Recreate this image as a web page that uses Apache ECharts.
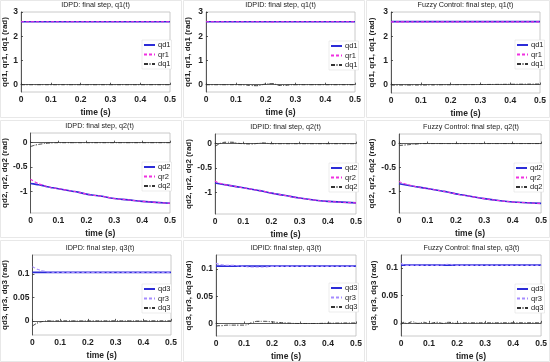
<!DOCTYPE html>
<html><head><meta charset="utf-8">
<script src="https://cdn.jsdelivr.net/npm/echarts@6/dist/echarts.min.js"></script>
<style>html,body{margin:0;padding:0;background:#fff}#c{width:550px;height:362px}</style>
</head><body><div id="c"></div>
<script>
// time samples (s)
const T = [0, 0.01, 0.02, 0.04, 0.06, 0.08, 0.1, 0.13, 0.15, 0.17, 0.2, 0.22, 0.25, 0.3, 0.35, 0.4, 0.5];

// Panel titles
const titles = [
  'IDPD: final step, q1(t)', 'IDPID: final step, q1(t)', 'Fuzzy Control: final step, q1(t)',
  'IDPD: final step, q2(t)', 'IDPID: final step, q2(t)', 'Fuzzy Control: final step, q2(t)',
  'IDPD: final step, q3(t)', 'IDPID: final step, q3(t)', 'Fuzzy Control: final step, q3(t)'
];
const yNames = ['qd1, qr1, dq1 (rad)', 'qd2, qr2, dq2 (rad)', 'qd3, qr3, dq3 (rad)'];
const legendNames = [['qd1','qr1','dq1'], ['qd2','qr2','dq2'], ['qd3','qr3','dq3']];
const xTicks = [0, 0.1, 0.2, 0.3, 0.4, 0.5];
const yTicksRow = [[0, 1, 2, 3], [-1, -0.5, 0], [0, 0.05, 0.1]];

// Row 1 : q1
const p1_qd = [2.6,2.6,2.6,2.6,2.6,2.6,2.6,2.6,2.6,2.6,2.6,2.6,2.6,2.6,2.6,2.6,2.6];
const p1_qr = [2.6,2.6,2.6,2.6,2.6,2.6,2.6,2.6,2.6,2.6,2.6,2.6,2.6,2.6,2.6,2.6,2.6];
const p1_dq = [0,0,0,0,0,0,0,0,0,0,0,0,0,0,0,0,0];
const p2_qd = [2.6,2.6,2.6,2.6,2.6,2.6,2.6,2.6,2.6,2.6,2.6,2.6,2.6,2.6,2.6,2.6,2.6];
const p2_qr = [2.6,2.6,2.6,2.6,2.6,2.6,2.6,2.6,2.6,2.6,2.6,2.59,2.6,2.6,2.6,2.6,2.6];
const p2_dq = [0,0,0,0,0,0,0,-0.01,-0.03,-0.04,0.03,0.05,-0.03,0,0,0,0];
const p3_qd = [2.6,2.6,2.6,2.6,2.6,2.6,2.6,2.6,2.6,2.6,2.6,2.6,2.6,2.6,2.6,2.6,2.6];
const p3_qr = [2.59,2.59,2.59,2.59,2.59,2.59,2.59,2.59,2.59,2.59,2.59,2.59,2.59,2.59,2.59,2.59,2.59];
const p3_dq = [-0.02,-0.02,-0.02,-0.02,-0.02,-0.02,-0.02,-0.015,-0.015,-0.01,-0.01,-0.005,-0.005,0,0.005,0.01,0.02];

// Row 2 : q2
const p4_qd = [-0.84,-0.85,-0.86,-0.88,-0.91,-0.93,-0.95,-0.98,-1.0,-1.02,-1.06,-1.08,-1.1,-1.15,-1.18,-1.21,-1.25];
const p4_qr = [-0.75,-0.79,-0.82,-0.87,-0.905,-0.93,-0.95,-0.98,-1.0,-1.02,-1.06,-1.08,-1.1,-1.15,-1.18,-1.21,-1.25];
const p4_dq = [-0.08,-0.06,-0.045,-0.025,-0.01,-0.003,0,0,0,0,0,0,0,0,0,0,0];
const p5_qd = [-0.81,-0.82,-0.83,-0.85,-0.87,-0.89,-0.91,-0.94,-0.96,-0.98,-1.02,-1.04,-1.07,-1.12,-1.16,-1.19,-1.22];
const p5_qr = [-0.77,-0.8,-0.82,-0.85,-0.87,-0.89,-0.91,-0.94,-0.96,-0.98,-1.02,-1.04,-1.07,-1.12,-1.16,-1.19,-1.22];
const p5_dq = [-0.05,-0.02,0.01,0.03,0.03,0.01,0,-0.005,0.005,0.015,0,0,0,0,0,0,0];
const p6_qd = [-0.84,-0.85,-0.86,-0.88,-0.9,-0.92,-0.94,-0.97,-0.99,-1.01,-1.05,-1.07,-1.1,-1.15,-1.19,-1.22,-1.25];
const p6_qr = [-0.79,-0.82,-0.84,-0.87,-0.9,-0.92,-0.94,-0.97,-0.99,-1.01,-1.05,-1.07,-1.1,-1.15,-1.19,-1.22,-1.25];
const p6_dq = [-0.04,-0.035,-0.03,-0.02,-0.01,0,0,0,0,0,0,0,0,0,0,0,0];

// Row 3 : q3
const p7_qd = [0.103,0.103,0.103,0.103,0.103,0.103,0.103,0.103,0.103,0.103,0.103,0.103,0.103,0.103,0.103,0.103,0.103];
const p7_qr = [0.115,0.112,0.109,0.106,0.104,0.103,0.103,0.103,0.103,0.103,0.103,0.103,0.103,0.103,0.103,0.103,0.103];
const p7_dq = [-0.011,-0.007,-0.004,-0.001,0,0,0,0,0,0,0,0,0,0,0,0,0];
const p8_qd = [0.1055,0.1055,0.1055,0.1055,0.1055,0.1055,0.1055,0.1055,0.1055,0.1055,0.1055,0.1055,0.1055,0.1055,0.1055,0.1055,0.1055];
const p8_qr = [0.111,0.109,0.108,0.107,0.107,0.106,0.105,0.104,0.104,0.104,0.105,0.105,0.105,0.105,0.105,0.105,0.105];
const p8_dq = [-0.005,-0.004,-0.004,-0.003,-0.003,-0.003,-0.003,0.002,0.004,0.004,0.003,0.002,0.001,0,0,0.0005,0.001];
const p9_qd = [0.1055,0.1055,0.1055,0.1055,0.1055,0.1055,0.1055,0.1055,0.1055,0.1055,0.1055,0.1055,0.1055,0.1055,0.1055,0.1055,0.1055];
const p9_qr = [0.109,0.106,0.105,0.105,0.105,0.105,0.105,0.105,0.106,0.107,0.105,0.105,0.105,0.105,0.105,0.105,0.105];
const p9_dq = [-0.003,0.001,-0.001,0.002,-0.001,0.001,-0.001,0.001,-0.001,0.001,-0.001,0,0,0,0,0,0];

const panelData = [
  [p1_qd,p1_qr,p1_dq],[p2_qd,p2_qr,p2_dq],[p3_qd,p3_qr,p3_dq],
  [p4_qd,p4_qr,p4_dq],[p5_qd,p5_qr,p5_dq],[p6_qd,p6_qr,p6_dq],
  [p7_qd,p7_qr,p7_dq],[p8_qd,p8_qr,p8_dq],[p9_qd,p9_qr,p9_dq]
];
const yRange = [[-0.3,3],[-0.3,3],[-0.35,3],[-1.45,0.2],[-1.45,0.2],[-1.45,0.2],[-0.03,0.14],[-0.023,0.126],[-0.024,0.124]];

// layout (pixels): left, top, right, bottom of each plot box
const boxes = [
  [21,12,170,92],[206,12,355,92],[391,12,540,93],
  [29,133,170,213],[215,134,356,214],[399,134,543,213],
  [29,255,171,335],[216,255,356,336],[401,255,542,337]
];
const nameGaps = [12,14,15,20,22,23,21,22,23];
const legendPos = [[142,40],[329,41],[515,40],[142,162],[329,163],[514,163],[142,284],[329,283],[515,284]];

const FONT = 'Liberation Sans, Arial, Helvetica, sans-serif';
const qrColors = ['#f030e0','#f030e0','#a58cff'];

const grid = [], xAxis = [], yAxis = [], series = [], legend = [], graphic = [];
// light frames of the sub-images
[[0,0,182,118],[183,0,182,118],[366,0,184,118],[0,120,182,118],[183,120,182,118],[366,120,184,118],[0,240,182,122],[183,240,182,122],[366,240,184,122]].forEach(r=>{
  graphic.push({type:'rect', shape:{x:r[0]+0.5,y:r[1]+0.5,width:r[2]-1,height:r[3]-1}, style:{fill:'none',stroke:'#e8e8e8',lineWidth:1}, silent:true});
});
for (let i = 0; i < 9; i++) {
  const row = Math.floor(i/3);
  const b = boxes[i];
  grid.push({left:b[0], top:b[1], width:b[2]-b[0], height:b[3]-b[1], show:true, borderColor:'#bdbdbd', borderWidth:0.8, backgroundColor:'#fff'});
  xAxis.push({type:'value', gridIndex:i, min:0, max:0.5, interval:0.1,
    name:'time (s)', nameLocation:'middle', nameGap:16,
    nameTextStyle:{fontSize:8.5, fontWeight:'bold', color:'#222', fontFamily:FONT},
    axisLine:{lineStyle:{color:'#333', width:0.8}},
    axisTick:{inside:true, length:2, lineStyle:{color:'#333', width:0.8}},
    axisLabel:{fontSize:8.5, fontWeight:'bold', color:'#222', margin:3, fontFamily:FONT},
    splitLine:{show:false}});
  yAxis.push({type:'value', gridIndex:i, min:yRange[i][0], max:yRange[i][1],
    name:yNames[row], nameLocation:'middle', nameGap:nameGaps[i], nameRotate:90,
    nameTextStyle:{fontSize:8, fontWeight:'bold', color:'#222', fontFamily:FONT},
    axisLine:{onZero:false, lineStyle:{color:'#333', width:0.8}},
    axisTick:{inside:true, length:2, customValues:yTicksRow[row], lineStyle:{color:'#333', width:0.8}},
    axisLabel:{fontSize:8.5, fontWeight:'bold', color:'#222', margin:3, fontFamily:FONT, customValues:yTicksRow[row]},
    splitLine:{show:false}});
  const d = panelData[i];
  const names = legendNames[row];
  series.push({type:'line', name:names[0], xAxisIndex:i, yAxisIndex:i, symbol:'circle', showSymbol:false, smooth:true,
    data:T.map((t,k)=>[t,d[0][k]]), lineStyle:{color:'#2c2cd8', width:1.6}, itemStyle:{color:'#2c2cd8'}, z:2});
  series.push({type:'line', name:names[1], xAxisIndex:i, yAxisIndex:i, symbol:'circle', showSymbol:false, smooth:true,
    data:T.map((t,k)=>[t,d[1][k]]), lineStyle:{color:qrColors[row], width:1.1, type:[3,2]}, itemStyle:{color:qrColors[row]}, z:3});
  series.push({type:'line', name:names[2], xAxisIndex:i, yAxisIndex:i, symbol:'circle', showSymbol:false, smooth:true,
    data:T.map((t,k)=>[t,d[2][k]]), lineStyle:{color:'#333', width:1, type:[4,1.5,1,1.5]}, itemStyle:{color:'#333'}, z:4});
  legend.push({data:names, orient:'vertical', left:legendPos[i][0], top:legendPos[i][1],
    itemWidth:11, itemHeight:6, itemGap:1.5, padding:[1,1,1,1],
    itemStyle:{opacity:0},
    backgroundColor:'#fff', borderColor:'#d8d8d8', borderWidth:0.5,
    textStyle:{fontSize:7.5, color:'#222', fontFamily:FONT, padding:[0,0,0,-2]}, selectedMode:false});
  graphic.push({type:'text', x:(b[0]+b[2])/2, y:b[1]-10,
    style:{text:titles[i], fontSize:7.2, fill:'#222', fontFamily:FONT, align:'center', textAlign:'center'}, silent:true});
}

const chart = echarts.init(document.getElementById('c'), null, {renderer:'canvas'});
chart.setOption({animation:false, backgroundColor:'#fff', grid, xAxis, yAxis, series, legend, graphic});
</script></body></html>
